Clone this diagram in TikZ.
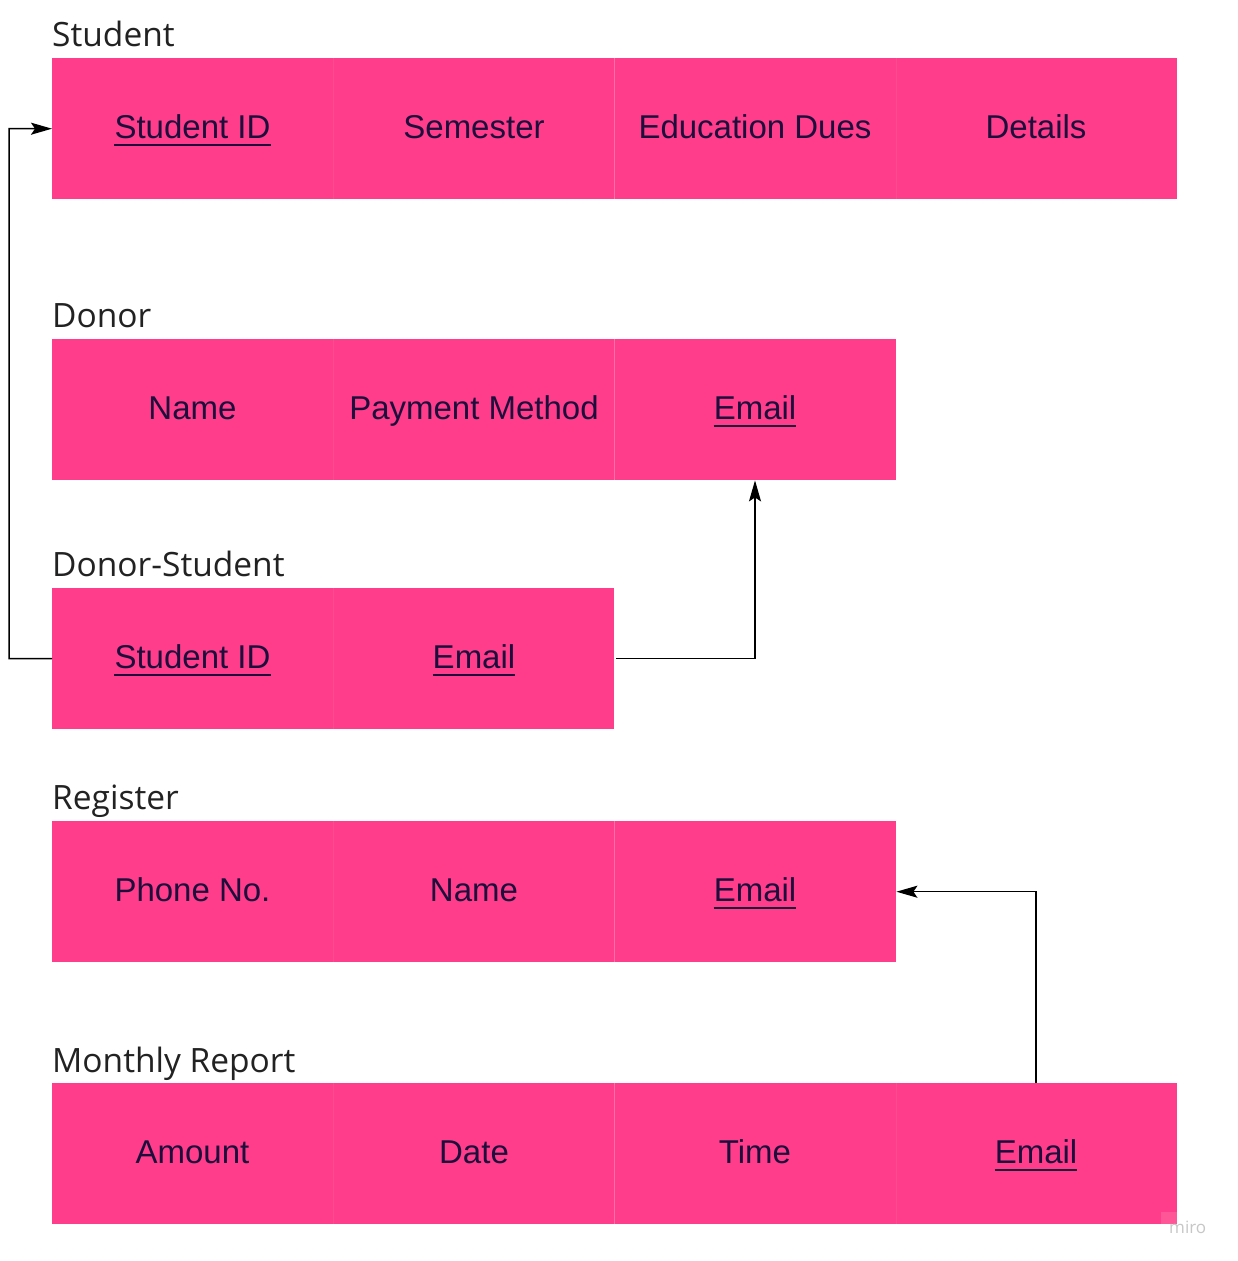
\documentclass[tikz,border=0pt]{standalone}
\usepackage{fontspec}
\setmainfont{Liberation Sans}
\newfontfamily\titlefont{Open Sans}
\usetikzlibrary{arrows.meta,calc}
\definecolor{pinkbox}{HTML}{FF3D8B}
\definecolor{pinkline}{HTML}{FF6FA6}
\definecolor{pinkfaint}{HTML}{FF4A92}
\definecolor{celltext}{HTML}{1C0F3C}
\definecolor{titletext}{HTML}{222222}
\tikzset{
  tablebox/.style={fill=pinkbox, draw=none, inner sep=0pt, anchor=north west, minimum height=141pt},
  celltxt/.style={inner sep=0pt, anchor=base, text=celltext, font=\fontsize{33}{38}\selectfont},
  titletxt/.style={inner sep=0pt, anchor=base west, text=titletext, font=\titlefont\fontsize{33.5}{38}\selectfont},
  divider/.style={draw=pinkline, line width=0.6pt},
  faintdivider/.style={draw=pinkfaint, line width=0.6pt},
  uline/.style={draw=celltext, line width=2.6pt},
  arr/.style={draw=black, line width=1.5pt, -{Stealth[length=21pt,width=12pt,inset=4pt]}},
}
\newcommand{\ulcell}[1]{\draw[uline] ([yshift=-7pt]#1.base west) -- ([yshift=-7pt]#1.base east);}
\begin{document}
\begin{tikzpicture}[x=1pt,y=-1pt]
\useasboundingbox (0,0) rectangle (1238,1261);
\fill[white] (0,0) rectangle (1238,1261);

% ---------------- Student
\node[titletxt] (tStudent) at (52,46) {Student};
\node[tablebox, minimum width=1125pt] (student) at (52,58) {};
\draw[divider] (614,58) -- (614,199);
\foreach \x in {333,896} \draw[faintdivider] (\x,58) -- (\x,199);
\node[celltxt] (sID) at (192.5,138) {Student ID};
\node[celltxt] (sSem) at (474,138) {Semester};
\node[celltxt] (sDues) at (755,138) {Education Dues};
\node[celltxt] (sDet) at (1036,138) {Details};
\ulcell{sID}

% ---------------- Donor
\node[titletxt] (tDonor) at (52,327) {Donor};
\node[tablebox, minimum width=844pt] (donor) at (52,339) {};
\draw[divider] (614,339) -- (614,480);
\draw[faintdivider] (333,339) -- (333,480);
\node[celltxt] (dName) at (192.5,419) {Name};
\node[celltxt] (dPay) at (474,419) {Payment Method};
\node[celltxt] (dEmail) at (755,419) {Email};
\ulcell{dEmail}

% ---------------- Donor-Student
\node[titletxt] (tDS) at (52,576) {Donor-Student};
\node[tablebox, minimum width=562pt] (ds) at (52,588) {};
\draw[faintdivider] (333,588) -- (333,729);
\node[celltxt] (dsID) at (192.5,668) {Student ID};
\node[celltxt] (dsEmail) at (474,668) {Email};
\ulcell{dsID}
\ulcell{dsEmail}

% ---------------- Register
\node[titletxt] (tReg) at (52,809) {Register};
\node[tablebox, minimum width=844pt] (reg) at (52,821) {};
\draw[divider] (614,821) -- (614,962);
\draw[faintdivider] (333,821) -- (333,962);
\node[celltxt] (rPhone) at (192.5,901) {Phone No.};
\node[celltxt] (rName) at (474,901) {Name};
\node[celltxt] (rEmail) at (755,901) {Email};
\ulcell{rEmail}

% ---------------- Monthly Report
\node[titletxt] (tMR) at (52,1072) {Monthly Report};
\node[tablebox, minimum width=1125pt] (mr) at (52,1083) {};
\draw[divider] (614,1083) -- (614,1224);
\foreach \x in {333,896} \draw[faintdivider] (\x,1083) -- (\x,1224);
\node[celltxt] (mAmt) at (192.5,1163) {Amount};
\node[celltxt] (mDate) at (474,1163) {Date};
\node[celltxt] (mTime) at (755,1163) {Time};
\node[celltxt] (mEmail) at (1036,1163) {Email};
\ulcell{mEmail}

% ---------------- connectors
\coordinate (leftbend) at (9,658.5);
\draw[arr] (ds.west) -- (leftbend) |- (student.west);
\draw[arr] ([xshift=2pt]ds.east) -| (donor.south -| dEmail);
\draw[arr] (mr.north -| mEmail) |- (reg.east);

% ---------------- watermark
\fill[pinkline, opacity=0.5] (1161,1212) rectangle (1177,1224);
\node[inner sep=0pt, anchor=base west, text=black!22, font=\titlefont\fontsize{17}{20}\selectfont] (miro) at (1169,1233) {miro};
\end{tikzpicture}
\end{document}
